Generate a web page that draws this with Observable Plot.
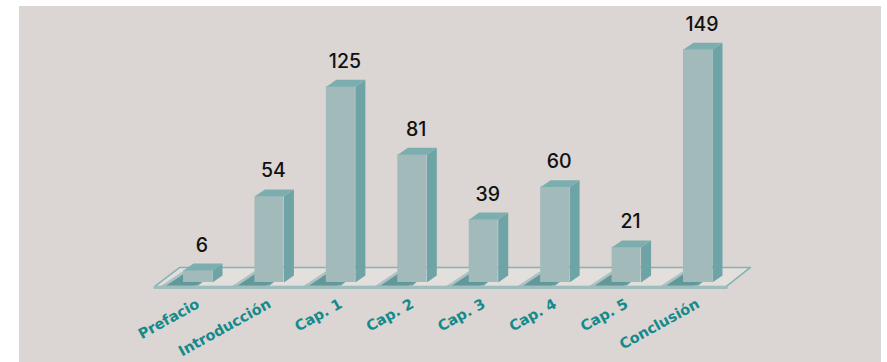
<!DOCTYPE html>
<html>
<head>
<meta charset="utf-8">
<script src="https://cdn.jsdelivr.net/npm/d3@7"></script>
<script src="https://cdn.jsdelivr.net/npm/@observablehq/plot@0.6"></script>
<style>
  html, body { margin: 0; padding: 0; background: #ffffff; }
  #chart { position: absolute; left: 19px; top: 6px; }
  #chart svg { display: block; }
</style>
</head>
<body>
<div id="chart"></div>
<script>
// Pages per section of the book
const categories = ["Prefacio", "Introducción", "Cap. 1", "Cap. 2", "Cap. 3", "Cap. 4", "Cap. 5", "Conclusión"];
const pages = [6, 54, 125, 81, 39, 60, 21, 149];

// 3D look: half width of the front face, depth offsets (x in band units, y in value units),
// and how far the bars sink into the floor slab
const halfW = 0.203;
const depthX = 0.14;
const depthY = 4.5;
const base = -1.75;
// floor slab, in data units
const floorFront = -4.3;
const floorBack = 8.0;
const floorX = {frontLeft: -0.605, backLeft: -0.255, backRight: 7.734, frontRight: 7.398};

const bars = categories.map((name, i) => ({name, i, value: pages[i]}));

const poly = (id, pts) => pts.map(([x, y]) => ({id, x, y}));

const sides = bars.flatMap(d => poly(d.name, [
  [d.i + halfW, base], [d.i + halfW + depthX, base + depthY],
  [d.i + halfW + depthX, d.value + depthY], [d.i + halfW, d.value]
]));
const tops = bars.flatMap(d => poly(d.name, [
  [d.i - halfW, d.value], [d.i + halfW, d.value],
  [d.i + halfW + depthX, d.value + depthY], [d.i - halfW + depthX, d.value + depthY]
]));
// shadows cast forward and to the left of each bar's footprint (outer soft halo, inner core)
const shadowOuter = bars.flatMap(d => poly(d.name, [
  [d.i - halfW - 0.02, base + depthY + 2.5], [d.i + halfW, base + depthY + 2.5],
  [d.i + halfW - 0.26, floorFront + 0.3], [d.i - halfW - 0.32, floorFront + 0.3]
]));
const shadowInner = bars.flatMap(d => poly(d.name, [
  [d.i - halfW, base + depthY + 1], [d.i + halfW, base + depthY + 1],
  [d.i + halfW - 0.2, floorFront + 0.6], [d.i - halfW - 0.24, floorFront + 0.6]
]));
const floor = poly("floor", [
  [floorX.frontLeft, floorFront], [floorX.backLeft, floorBack],
  [floorX.backRight, floorBack], [floorX.frontRight, floorFront], [floorX.frontLeft, floorFront]
]);
const floorEdge = poly("edge", [[floorX.frontLeft, floorFront], [floorX.frontRight, floorFront]]);

const chart = Plot.plot({
  width: 862,
  height: 356,
  marginLeft: 142.8,
  marginRight: 147.8,
  marginTop: 26.1,
  marginBottom: 82.7,
  style: {background: "#dbd6d3", overflow: "visible"},
  x: {domain: [-0.5, 7.5], axis: null},
  y: {domain: [0, 160], axis: null},
  marks: [
    // floor slab
    Plot.line(floor, {x: "x", y: "y", z: "id", fill: "#e3dfdc", stroke: "#84b3b4", strokeWidth: 1.6}),
    // shadows on the floor
    Plot.line(shadowOuter, {x: "x", y: "y", z: "id", fill: "#6a9fa1", fillOpacity: 0.45, stroke: "none"}),
    Plot.line(shadowInner, {x: "x", y: "y", z: "id", fill: "#4f8d90", fillOpacity: 0.8, stroke: "none"}),
    Plot.line(floorEdge, {x: "x", y: "y", z: "id", stroke: "#9dbdbe", strokeWidth: 3, dy: 1}),
    // bars: front, side and top faces
    Plot.rect(bars, {x1: d => d.i - halfW, x2: d => d.i + halfW, y1: base, y2: "value", fill: "#a3babb"}),
    Plot.line(sides, {x: "x", y: "y", z: "id", fill: "#6fa4a7", stroke: "none"}),
    Plot.line(tops, {x: "x", y: "y", z: "id", fill: "#7caeb0", stroke: "none"}),
    // value labels
    Plot.text(bars, {
      x: "i", y: "value", text: d => String(d.value),
      dx: 4, dy: -19, lineAnchor: "bottom",
      fontFamily: "Inter, 'Noto Sans', sans-serif", fontSize: 19.5, fontWeight: 500, fill: "#111111"
    }),
    // category labels
    Plot.text(bars, {
      x: "i", y: -17.5, text: "name",
      textAnchor: "end", rotate: -29, dx: 2.5, lineAnchor: "bottom",
      fontFamily: "'DejaVu Sans', sans-serif", fontSize: 14.5, fontWeight: 700, fill: "#158a8c"
    })
  ]
});

document.getElementById("chart").appendChild(chart);
</script>
</body>
</html>
